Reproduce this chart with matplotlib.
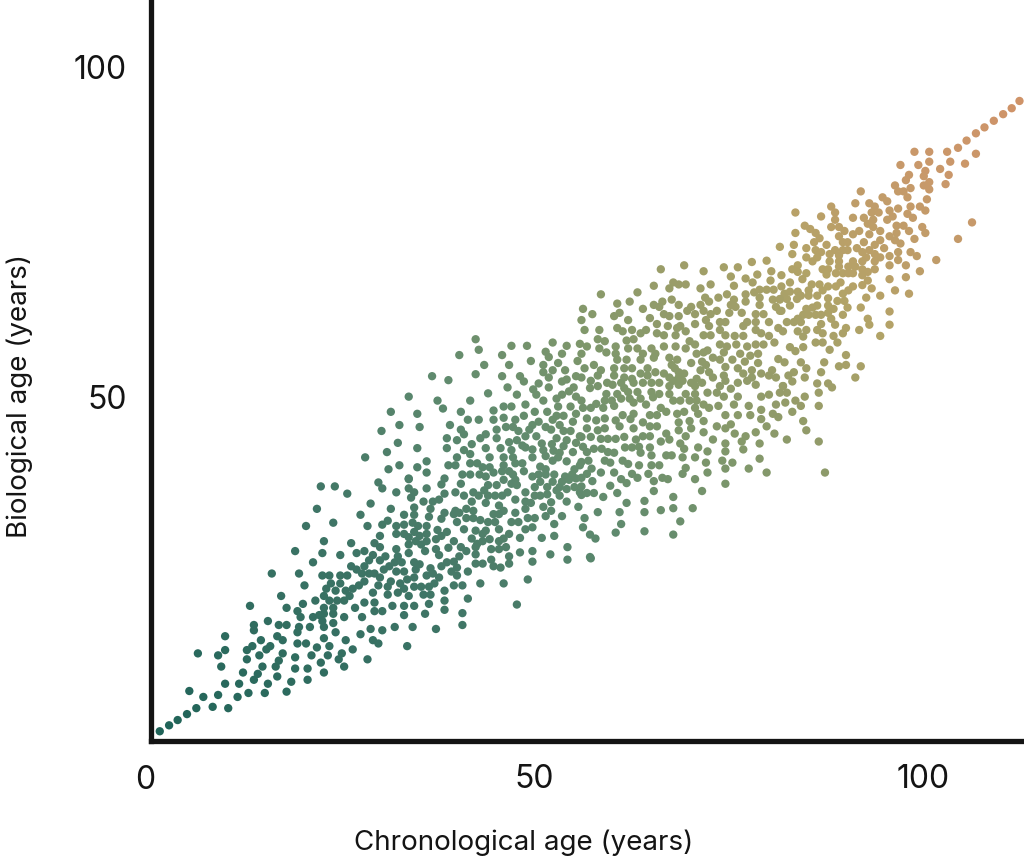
import matplotlib
matplotlib.use("Agg")
import matplotlib.pyplot as plt
from matplotlib.colors import LinearSegmentedColormap, Normalize
import numpy as np

x_label = "Chronological age (years)"
y_label = "Biological age (years)"
x_ticks = [50, 100]
y_ticks = [50, 100]

# (chronological age, biological age)
ages_young = [
(1.9,-0.8),(3.1,0.1),(4.2,0.9),(5.4,1.8),(6.6,2.7),(8.7,2.9),(10.7,2.7),(5.7,5.3),(7.5,4.4),(9.4,4.7),(11.9,4.4),(13.3,5.0),(15.4,5.0),(18.2,5.2),(10.3,6.4),(12.1,6.4),(14.0,7.0),(14.5,7.9),(15.8,6.4),(17.0,7.5),(18.8,6.7),(20.9,7.0),(23.0,8.1),(12.6,8.1),(15.1,9.0),(16.8,9.0),(17.2,9.9),(19.3,8.7),(20.9,8.7),(22.6,9.6),(25.6,9.0),(24.9,10.1),(9.8,9.0),(13.1,10.1),(6.8,11.0),(9.4,10.7),(10.3,11.5),(13.1,11.5),(13.8,12.1),(14.7,10.7),(15.6,11.6),(16.1,12.1),(17.7,11.0),(19.3,10.4),(21.4,10.7),(23.5,10.7),(25.3,11.0),(26.7,11.6),(28.6,10.1),(22.1,11.9),(23.7,12.1),(19.6,12.5),(20.7,12.5),(14.9,13.0),(17.0,13.6),(17.7,13.0),(10.3,13.6),(23.0,13.3),(25.8,13.0),(29.3,13.0),(30.0,12.5),(33.7,12.1),(14.0,15.3),(14.0,14.5),(15.8,15.9),(17.2,15.3),(18.2,15.3),(19.8,15.0),(19.6,14.2),(21.2,15.0),(23.0,15.0),(24.2,15.6),(24.5,14.2),(27.7,13.9),(29.0,14.7),(30.5,14.5),(32.1,15.0),(34.4,15.0),(37.4,14.7),(19.6,17.4),(20.0,16.5),(21.6,16.5),(22.4,16.8),(23.0,17.0),(22.8,15.9),(24.2,17.0),(25.6,16.5),(27.9,16.5),(29.5,17.4),(30.5,17.4),(33.3,16.8),(36.0,17.0),(13.5,18.2),(18.2,17.9),(20.3,18.5),(23.0,17.9),(24.2,17.9),(27.0,17.9),(28.2,18.7),(29.5,18.7),(31.8,18.2),(33.3,18.2),(34.6,18.2),(36.5,18.5),(38.5,17.6),(38.5,19.0),(17.5,19.7),(21.9,19.0),(23.0,19.7),(23.7,19.0),(24.7,19.0),(25.6,19.0),(26.3,19.7),(25.8,20.5),(24.5,20.5),(23.3,20.8),(26.7,20.8),(27.5,21.3),(28.2,21.9),(29.3,20.2),(30.0,21.3),(31.2,19.9),(31.2,21.1),(31.6,21.9),(32.5,20.2),(32.8,21.6),(33.3,20.8),(33.9,19.7),(34.6,21.1),(35.5,21.1),(35.8,19.9),(36.7,19.9),(36.5,21.1),(37.2,21.6),(38.5,20.5),(20.5,21.3),(23.9,21.6),(25.1,21.6),(16.3,23.1),(19.8,23.1),(22.8,22.8),(23.7,22.8),(25.1,22.8),(26.0,22.8),(26.5,24.2),(27.2,23.7),(27.9,23.1),(28.8,23.1),(29.5,23.1),(30.2,22.5),(30.7,23.7),(31.4,24.2),(32.3,23.4),(33.3,23.4),(33.7,22.2),(34.6,22.5),(34.8,23.7),(35.3,24.5),(34.6,24.8),(36.2,22.8),(37.0,23.1),(36.7,23.9),(37.8,22.5),(38.1,24.2),(38.8,24.8),(21.6,24.8),(28.2,24.2),(28.8,25.1),(29.3,25.9),(30.2,25.1),(30.9,25.7),(32.1,24.8),(32.5,25.7),(33.0,24.8),(25.1,25.9),(27.2,26.2),(28.2,26.5),(22.8,26.2),(19.3,26.5),(32.3,26.8),(33.9,26.2),(36.0,26.5),(37.4,26.8),(37.8,25.9),(39.0,27.0),(23.0,28.0),(26.5,27.7),(29.5,27.7),(30.2,27.1),(33.9,27.5),(34.8,28.0),(35.5,27.5),(36.2,28.0),(30.2,28.8),(33.9,28.6),(35.3,28.8),(37.4,28.3),(38.1,28.8),(32.3,29.1),(33.3,29.1),(34.6,29.4),(36.2,29.1),(37.6,29.7),(38.8,29.4),(20.7,30.3),(28.6,30.3),(30.5,30.5),(31.2,31.1),(32.3,30.3),(33.3,30.5),(34.4,30.8),(35.1,30.3),(36.2,30.3),(24.2,30.8),(27.7,32.0),(33.3,32.0),(34.6,32.0),(36.5,31.7),(38.1,31.4),(38.5,32.3),(22.1,32.9),(31.6,32.9),(34.6,33.1),(36.7,32.9),(29.0,33.7),(35.8,34.0),(37.0,34.0),(37.8,34.3),(26.0,35.2),(32.3,35.4),(34.6,35.4),(34.2,34.6),(38.5,35.2),(22.6,36.3),(24.4,36.3),(30.5,36.0),(33.9,36.0),(36.2,36.0),(30.0,36.9),(38.1,36.6),(33.9,37.4),
]

ages_middle = [
(42.5,58.6),(42.9,57.0),(40.4,56.2),(47.1,57.6),(49.1,57.6),(45.9,56.2),(52.4,58.1),(54.2,57.6),(51.5,56.7),(51.9,55.9),(53.6,56.4),(55.9,57.9),(43.6,54.7),(46.8,54.7),(49.6,55.3),(51.2,54.7),(53.1,55.0),(55.6,55.3),(42.5,53.3),(45.9,53.0),(48.2,53.0),(48.7,52.2),(51.2,53.6),(52.4,53.9),(51.9,52.8),(54.0,53.9),(50.6,51.9),(53.6,52.2),(54.2,52.5),(55.4,53.0),(36.9,53.0),(39.0,52.4),(46.6,51.3),(49.9,51.0),(51.9,51.3),(44.1,50.4),(47.8,50.2),(50.3,50.2),(54.5,50.7),(55.1,51.3),(53.6,50.2),(33.9,49.9),(37.6,49.3),(41.8,49.3),(51.2,49.3),(52.9,49.6),(55.4,49.9),(48.9,48.7),(47.1,48.4),(46.1,48.4),(53.1,48.4),(54.7,48.4),(38.3,48.1),(44.8,47.8),(40.6,47.6),(31.6,47.6),(35.0,47.3),(50.1,47.6),(51.7,47.6),(48.7,47.0),(52.9,47.0),(53.8,47.0),(55.4,47.3),(41.5,46.4),(42.9,46.4),(44.8,46.4),(46.1,46.7),(47.6,46.4),(50.6,46.1),(52.4,46.4),(32.7,45.6),(39.2,45.6),(35.3,45.3),(46.4,45.3),(47.3,45.3),(49.8,45.6),(51.5,45.3),(53.3,45.6),(55.0,46.1),(30.4,44.7),(40.6,44.9),(45.2,44.9),(48.0,44.7),(49.4,44.9),(52.2,44.9),(53.8,44.7),(54.7,44.7),(41.0,44.2),(43.8,44.2),(43.1,43.6),(38.8,43.6),(40.1,43.3),(45.2,43.6),(48.9,43.9),(50.3,43.9),(46.8,43.0),(47.8,43.3),(52.9,43.6),(54.2,43.3),(55.9,43.9),(32.5,42.9),(42.0,42.7),(48.5,42.5),(48.9,42.2),(51.0,42.8),(52.3,42.7),(53.8,42.4),(55.4,42.9),(38.8,42.1),(35.0,42.1),(43.8,42.1),(45.7,42.1),(47.1,41.8),(49.8,41.9),(51.2,41.8),(31.1,41.5),(41.0,41.8),(41.8,41.2),(55.0,41.5),(52.5,41.7),(53.3,41.4),(28.3,40.7),(40.1,40.7),(44.3,40.7),(46.1,40.7),(47.3,40.7),(49.8,40.7),(51.5,40.9),(53.1,40.7),(36.2,40.1),(41.8,39.8),(42.7,39.8),(46.1,39.5),(47.6,39.8),(48.5,39.8),(50.8,39.3),(52.4,40.2),(54.2,40.1),(55.9,39.5),(32.7,39.5),(39.0,39.5),(39.9,39.5),(31.3,38.9),(35.0,39.2),(43.4,39.2),(44.3,39.2),(45.9,38.6),(46.8,38.6),(48.7,38.6),(51.5,38.9),(55.2,38.9),(36.2,38.4),(40.8,38.1),(41.8,38.1),(43.0,38.1),(43.8,37.8),(44.8,38.4),(47.3,38.1),(49.8,37.8),(50.6,38.1),(51.5,38.1),(52.6,38.1),(54.0,37.8),(54.9,38.1),(33.9,37.5),(38.5,37.5),(46.1,37.3),(47.6,37.3),(50.8,37.0),(52.4,37.0),(53.6,37.0),(54.5,37.3),(55.4,37.5),(40.6,36.7),(44.1,36.5),(45.2,36.5),(50.1,36.2),(47.1,36.7),(51.7,36.2),(53.3,36.2),(55.2,36.2),(47.8,36.5),(39.9,35.4),(42.2,35.4),(43.6,35.7),(46.6,35.4),(48.9,35.4),(50.1,34.9),(51.7,35.1),(52.9,35.7),(54.2,35.9),(55.9,35.4),(41.0,34.9),(42.9,34.9),(44.1,34.9),(45.0,34.9),(45.9,34.9),(47.6,34.3),(48.9,34.0),(50.8,34.9),(53.3,34.9),(42.0,34.0),(43.8,33.8),(52.2,33.9),(54.2,34.0),(49.6,33.8),(51.2,33.2),(45.5,33.4),(55.7,33.2),(39.9,32.6),(41.3,32.9),(44.8,32.1),(46.1,32.6),(47.6,32.3),(48.9,32.9),(52.2,32.6),(45.5,32.1),(42.2,32.6),(39.7,32.1),(40.4,32.3),(53.6,31.8),(51.5,31.8),(41.3,31.5),(42.2,31.5),(43.1,31.2),(44.1,30.9),(45.0,30.9),(47.1,30.9),(48.0,30.9),(49.2,31.5),(50.1,31.5),(40.1,30.9),(52.6,30.6),(41.0,29.8),(42.5,29.6),(45.5,29.8),(46.8,29.1),(48.9,29.8),(49.8,30.1),(43.8,29.6),(43.4,29.1),(44.3,28.3),(46.1,28.4),(51.0,28.5),(52.6,28.8),(48.2,28.5),(39.7,28.0),(42.0,28.4),(42.7,27.6),(43.4,28.0),(45.5,28.0),(40.6,27.1),(41.3,26.5),(42.5,27.1),(44.5,26.8),(45.5,26.8),(46.4,27.1),(54.3,27.1),(49.8,26.5),(42.5,26.0),(40.4,25.7),(46.8,25.7),(48.2,26.3),(52.1,26.0),(39.7,24.9),(44.5,25.2),(46.8,24.6),(49.8,24.9),(54.3,25.2),(57.3,25.4),(42.5,24.6),(43.4,24.6),(44.8,24.2),(45.7,24.0),(40.1,24.0),(41.5,23.4),(39.4,23.4),(40.1,22.8),(43.1,21.6),(46.1,21.6),(49.2,22.2),(39.7,21.3),(40.8,21.3),(41.5,19.3),(47.8,18.4),(40.8,17.1),(40.8,15.3),
]

ages_older = [
(66.3,69.2),(69.3,69.8),(71.8,68.9),(74.4,69.5),(76.2,69.5),(78.0,70.3),(79.9,70.5),(80.5,68.9),(75.3,68.1),(77.2,67.8),(78.7,68.4),(78.1,67.2),(80.4,67.5),(65.4,66.7),(67.9,67.2),(68.6,66.9),(69.5,66.9),(67.4,66.3),(71.4,66.3),(72.7,66.9),(75.7,66.7),(78.3,65.7),(79.0,66.1),(79.9,66.1),(80.8,66.1),(58.6,65.4),(63.3,65.7),(74.8,65.4),(77.2,65.4),(60.7,64.0),(62.3,64.3),(66.5,64.3),(67.7,64.6),(72.0,64.9),(73.7,64.9),(72.5,64.3),(75.7,64.6),(77.2,64.3),(79.0,64.9),(80.7,64.6),(81.6,64.6),(56.3,63.2),(64.0,63.2),(65.4,63.8),(66.1,63.5),(68.6,63.8),(70.2,63.5),(71.4,63.8),(75.3,63.8),(75.9,63.5),(79.0,63.8),(81.1,63.5),(57.5,62.4),(61.0,62.6),(60.3,62.1),(66.7,62.4),(67.4,62.1),(68.6,62.1),(69.7,62.9),(70.7,62.4),(71.8,62.9),(73.5,62.9),(72.7,62.4),(75.1,62.6),(76.7,62.6),(78.5,62.4),(79.5,62.4),(81.6,62.9),(62.1,61.5),(64.9,61.8),(72.1,61.5),(65.8,60.9),(73.9,61.2),(74.6,61.2),(77.4,61.2),(78.5,61.2),(80.2,61.2),(56.1,61.5),(56.5,60.0),(58.4,60.0),(60.7,60.3),(61.4,59.8),(62.6,60.0),(64.4,60.0),(63.7,59.5),(65.8,59.5),(67.2,60.6),(68.4,60.3),(68.8,60.6),(69.5,59.8),(70.7,60.9),(72.5,60.6),(73.9,60.0),(76.9,60.6),(78.5,60.0),(79.2,59.5),(81.4,60.3),(58.2,58.6),(59.1,58.3),(61.9,58.4),(62.8,58.6),(66.7,59.2),(68.2,59.2),(70.0,58.3),(71.8,59.2),(72.7,59.2),(74.6,59.2),(75.8,59.1),(76.9,59.1),(80.2,59.1),(80.9,58.1),(56.8,57.5),(58.4,57.2),(60.5,57.5),(62.1,57.2),(63.3,57.2),(65.1,57.2),(66.7,57.5),(68.2,57.5),(69.5,57.2),(70.7,57.8),(72.3,56.9),(73.9,57.8),(74.8,57.5),(76.0,57.8),(77.4,57.5),(78.5,57.8),(79.5,57.8),(56.1,56.4),(59.3,56.6),(60.5,56.4),(64.0,56.4),(65.6,56.4),(70.9,56.4),(71.8,56.6),(74.4,56.6),(76.5,56.4),(77.8,56.1),(78.8,56.4),(60.7,55.5),(61.9,55.5),(63.7,55.5),(65.4,55.8),(67.4,55.8),(68.4,55.5),(70.2,55.0),(73.0,55.8),(71.6,55.2),(73.9,55.5),(75.5,55.5),(77.1,55.2),(78.8,55.0),(81.4,55.6),(57.7,54.7),(58.6,53.9),(56.5,54.2),(60.3,54.2),(61.6,54.2),(62.6,54.2),(64.6,54.2),(68.1,54.2),(67.7,54.7),(72.1,54.7),(74.6,54.4),(76.2,54.2),(78.0,53.9),(80.6,53.9),(58.2,53.1),(60.3,53.1),(65.6,53.6),(66.7,53.4),(68.6,53.6),(69.3,53.4),(71.4,53.9),(72.5,53.6),(76.9,53.4),(79.2,53.4),(80.2,53.1),(56.1,52.8),(61.6,52.8),(62.6,52.6),(63.7,53.4),(64.6,53.1),(67.4,52.8),(68.6,52.8),(70.9,52.6),(73.0,52.8),(74.4,53.1),(78.0,52.8),(81.1,52.8),(57.3,52.3),(59.4,52.0),(61.2,52.0),(62.8,52.0),(64.0,52.0),(65.1,52.0),(66.1,52.0),(67.9,52.3),(69.1,52.3),(70.2,52.0),(71.6,52.0),(74.6,52.3),(76.2,52.0),(77.4,52.3),(78.5,51.7),(57.2,51.2),(58.2,51.5),(60.1,51.7),(61.6,51.2),(67.4,51.5),(68.6,51.7),(70.7,51.5),(73.9,51.5),(75.3,51.1),(82.0,51.5),(59.3,50.3),(60.7,50.3),(62.1,50.6),(63.3,50.6),(65.1,50.6),(66.1,50.3),(67.4,50.3),(69.5,50.3),(70.7,50.3),(72.3,50.5),(73.5,50.5),(74.4,49.9),(76.2,49.9),(79.2,49.9),(80.2,50.2),(81.6,50.5),(82.5,50.5),(59.1,49.3),(60.0,49.3),(61.2,49.6),(62.3,49.6),(63.7,49.6),(65.3,49.8),(67.9,49.3),(68.8,49.3),(70.0,49.3),(70.9,49.3),(56.1,49.3),(58.0,48.8),(62.8,49.0),(64.4,48.7),(66.3,48.2),(71.8,48.7),(73.7,48.5),(75.7,48.7),(77.6,48.5),(81.1,48.7),(82.3,49.0),(83.6,49.3),(84.8,49.9),(86.6,50.5),(56.3,48.2),(57.3,48.2),(58.9,48.2),(60.3,48.5),(61.4,47.1),(67.0,47.6),(68.4,47.3),(69.3,47.6),(70.7,48.2),(72.5,48.2),(79.2,47.9),(83.2,47.6),(84.3,48.5),(86.6,48.5),(71.1,47.3),(62.8,47.3),(64.9,47.1),(65.8,47.1),(74.6,47.1),(76.2,47.1),(77.8,47.1),(80.7,47.3),(81.4,46.8),(58.0,46.3),(60.5,46.3),(62.4,46.5),(64.0,46.0),(70.0,46.2),(71.8,46.2),(79.2,46.5),(84.6,46.2),(68.6,46.0),(56.8,46.6),(59.1,46.6),(56.8,45.1),(58.2,44.8),(59.1,45.1),(61.0,45.4),(62.8,45.1),(64.9,45.4),(65.8,45.4),(68.6,44.8),(70.2,45.1),(73.5,45.4),(75.3,45.7),(74.6,45.1),(79.9,45.4),(85.0,44.8),(61.6,43.8),(64.0,43.9),(64.9,43.9),(67.0,44.3),(69.5,43.9),(71.8,44.5),(75.8,44.3),(78.5,44.5),(80.9,44.3),(56.1,43.8),(57.3,43.8),(58.6,43.5),(59.5,43.5),(60.5,43.5),(63.1,43.4),(66.3,43.1),(67.4,43.4),(73.0,43.4),(74.6,42.8),(77.2,43.9),(76.7,43.1),(79.0,42.8),(82.5,43.4),(86.6,43.1),(56.3,42.3),(57.7,42.0),(58.7,42.0),(61.7,42.2),(62.6,42.2),(63.5,42.3),(64.9,42.2),(68.8,42.8),(69.3,42.0),(71.1,42.2),(76.9,41.9),(56.8,41.5),(59.5,41.5),(60.3,41.4),(63.7,41.4),(65.1,41.0),(67.0,41.0),(67.7,41.0),(69.1,40.7),(70.7,40.7),(72.3,41.6),(74.6,41.6),(79.0,40.5),(56.1,40.0),(57.0,40.2),(59.1,40.2),(59.8,39.9),(61.4,40.2),(62.1,39.7),(63.5,39.5),(65.1,39.5),(66.1,39.5),(72.1,39.9),(74.2,40.2),(75.5,39.9),(57.4,39.0),(69.5,39.1),(74.6,39.0),(77.6,39.0),(87.4,38.4),(56.8,38.2),(58.6,38.4),(60.3,38.4),(62.6,38.2),(64.7,38.2),(69.1,38.2),(72.3,38.4),(79.9,38.4),(56.1,37.6),(61.2,37.4),(63.3,37.6),(66.5,37.6),(67.2,37.4),(70.7,37.4),(57.5,37.1),(61.9,36.8),(65.4,37.1),(74.6,36.7),(59.8,36.4),(56.1,36.3),(65.4,35.6),(71.6,35.6),(57.7,35.3),(60.7,35.3),(56.1,35.0),(56.8,35.3),(58.9,34.7),(67.9,34.7),(64.2,34.1),(61.9,33.8),(61.0,32.4),(58.2,32.4),(64.2,32.4),(66.3,32.7),(67.9,33.0),(70.4,33.0),(56.5,31.5),(61.2,30.6),(68.8,31.0),(56.3,30.1),(60.5,29.3),(64.2,29.5),(57.2,29.0),(57.9,28.4),(67.9,29.0),(57.2,25.6),
]

ages_oldest = [
(112.4,94.7),(111.4,93.6),(110.3,92.7),(109.1,91.7),(107.9,90.7),(106.8,89.8),(105.6,88.7),(104.5,87.6),(103.1,87.0),(100.8,87.0),(98.9,87.0),(106.8,86.7),(105.4,85.2),(103.5,85.5),(100.8,85.5),(99.4,85.0),(97.1,85.0),(102.2,84.4),(100.3,84.1),(103.3,83.5),(98.2,83.5),(100.1,83.3),(97.8,82.7),(100.8,82.4),(100.1,81.9),(102.9,82.1),(96.4,81.9),(98.4,81.5),(100.8,81.3),(96.8,81.0),(97.5,81.0),(92.0,81.0),(98.0,80.1),(94.8,80.1),(100.5,79.8),(95.4,79.5),(91.3,79.2),(93.1,79.2),(93.8,78.7),(98.4,78.7),(99.6,78.7),(88.2,78.7),(96.8,78.4),(100.3,78.1),(95.7,78.1),(94.3,77.8),(93.4,77.8),(88.7,77.8),(83.6,77.8),(98.0,77.6),(96.1,77.2),(86.9,77.2),(91.0,77.0),(92.4,77.0),(98.7,77.0),(93.6,76.7),(95.4,76.7),(88.7,76.7),(92.9,76.1),(106.3,76.3),(84.8,75.8),(96.6,75.8),(97.5,75.8),(88.2,75.6),(89.2,75.6),(93.6,75.6),(99.9,75.6),(85.5,75.3),(89.9,75.0),(91.8,75.0),(94.5,75.0),(98.2,75.0),(83.6,74.7),(86.2,74.7),(91.0,74.5),(93.1,74.5),(96.6,74.7),(100.3,74.7),(89.2,74.2),(95.7,74.2),(86.7,73.9),(98.9,73.8),(104.5,73.8),(96.4,73.6),(94.5,73.6),(86.0,73.3),(89.7,73.3),(90.3,73.3),(92.4,73.3),(97.1,73.1),(93.8,72.9),(87.6,72.9),(83.4,72.9),(81.6,72.6),(91.5,72.4),(85.0,72.4),(95.0,72.4),(93.1,72.1),(86.2,72.1),(88.7,72.1),(89.7,72.1),(90.3,72.1),(92.2,71.8),(86.9,71.8),(96.8,71.8),(98.4,71.8),(93.8,71.5),(83.2,71.5),(88.0,71.5),(89.2,71.3),(99.2,71.2),(85.0,71.0),(86.4,71.0),(92.7,71.0),(94.5,71.0),(95.7,71.2),(96.8,70.6),(101.7,70.6),(85.8,70.4),(88.0,70.4),(89.2,70.4),(91.0,70.4),(92.2,70.4),(93.8,70.4),(95.7,69.8),(97.8,69.8),(83.9,69.8),(90.4,69.6),(89.2,69.6),(91.3,69.6),(83.2,69.2),(87.1,69.2),(87.8,69.2),(93.8,69.2),(92.2,69.2),(92.9,68.8),(83.9,68.8),(85.0,68.6),(87.6,68.4),(88.8,68.6),(89.7,68.6),(90.4,68.6),(91.0,68.6),(99.6,68.9),(81.8,68.3),(92.2,68.3),(84.5,67.7),(95.7,67.7),(97.8,68.0),(92.9,67.5),(82.9,67.2),(89.4,67.2),(85.7,66.9),(86.7,66.9),(88.8,66.6),(87.8,66.6),(92.2,66.8),(91.0,66.6),(81.8,66.6),(87.1,66.0),(90.4,66.0),(85.3,66.0),(93.4,66.3),(96.4,66.0),(82.2,65.5),(82.9,65.8),(83.9,65.8),(89.7,65.5),(98.2,65.5),(84.3,65.2),(85.3,65.2),(86.4,65.2),(94.5,65.2),(92.7,64.9),(87.8,64.8),(82.5,64.7),(81.6,64.7),(83.8,64.7),(89.0,64.4),(89.9,64.4),(82.9,63.7),(87.8,63.7),(86.4,63.7),(85.8,63.4),(90.3,63.4),(92.0,63.4),(85.0,63.2),(88.5,63.2),(81.8,62.9),(87.8,62.6),(95.7,62.8),(84.6,62.3),(85.3,62.3),(86.2,62.3),(86.9,62.3),(89.7,62.3),(88.2,61.7),(92.9,61.7),(83.9,61.7),(82.5,61.2),(83.4,61.2),(84.3,61.2),(86.9,60.9),(88.7,60.8),(93.1,60.8),(95.7,60.8),(86.4,60.0),(85.0,60.0),(83.9,59.8),(90.1,60.3),(91.8,60.0),(82.0,59.8),(87.1,59.5),(89.7,59.5),(84.6,59.0),(88.5,59.1),(94.5,59.1),(89.0,58.1),(86.2,58.1),(87.1,58.1),(82.9,57.4),(84.6,57.4),(83.6,56.8),(88.0,57.0),(90.1,56.2),(82.2,55.1),(84.3,55.1),(87.3,55.1),(85.0,54.2),(89.2,54.5),(90.1,54.7),(92.0,54.5),(83.4,53.6),(86.9,53.6),(82.7,53.1),(84.8,52.8),(91.3,52.8),(83.2,52.2),(86.4,51.9),(87.8,51.9),(82.0,51.5),(88.3,51.3),
]

cmap_stops = [(0, "#1f6358"), (55, "#3f7566"), (90, "#5f8a6e"), (115, "#7f976b"),
              (155, "#b3a367"), (185, "#c9986a"), (207, "#cf9368")]

plt.rcParams["font.family"] = ["Inter", "DejaVu Sans"]

fig = plt.figure(figsize=(10.24, 8.62), dpi=100)
W, H = 1024, 862
ax = fig.add_axes([150.5 / W, 1 - 741.5 / H, (W - 150.5) / W, 741.5 / H])
ax.set_xlim(0.71, 112.98)
ax.set_ylim(-2.2, 110.15)

pts = np.array(ages_young + ages_middle + ages_older + ages_oldest)
x, y = pts[:, 0], pts[:, 1]
cmap = LinearSegmentedColormap.from_list(
    "age", [(v / cmap_stops[-1][0], c) for v, c in cmap_stops])
ax.scatter(x, y, c=x + y, cmap=cmap, norm=Normalize(0, cmap_stops[-1][0]),
           s=36, linewidths=0, zorder=3)

for side in ("top", "right"):
    ax.spines[side].set_visible(False)
for side in ("left", "bottom"):
    ax.spines[side].set_linewidth(3.8)
    ax.spines[side].set_color("#141414")

ax.set_xticks(x_ticks)
ax.set_yticks(y_ticks)
ax.tick_params(length=0, labelsize=23, colors="#141414")
ax.tick_params(axis="x", pad=16)
ax.tick_params(axis="y", pad=17)
ax.text(0, -5.7, "0", ha="center", va="top", fontsize=23, color="#141414", clip_on=False)

fig.text(524 / W, 1 - 843 / H, x_label, ha="center", va="center", fontsize=20, color="#141414")
fig.text(20 / W, 1 - 396 / H, y_label, ha="center", va="center", rotation=90, fontsize=20, color="#141414")

fig.savefig("out.png", dpi=100)
